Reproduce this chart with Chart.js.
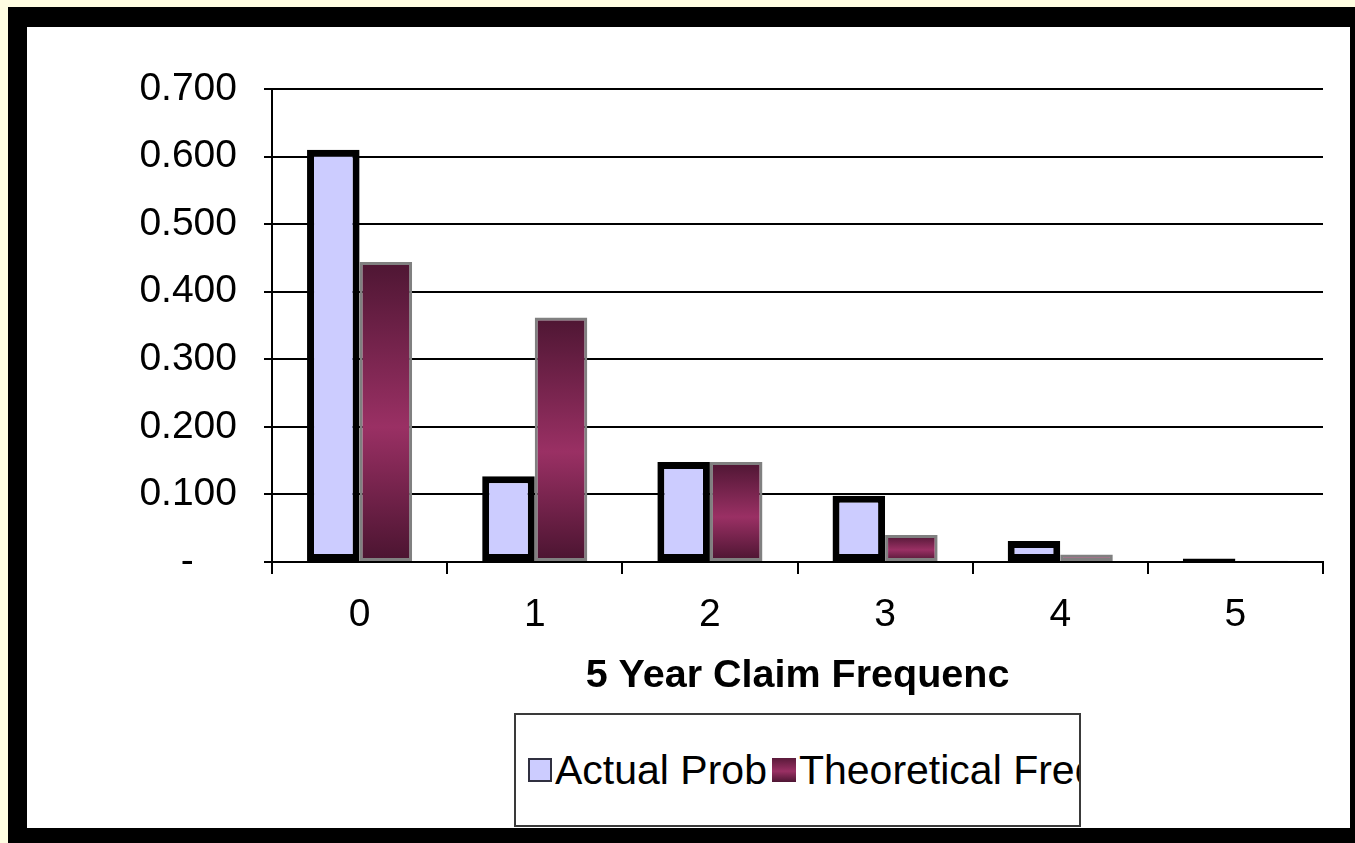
<!DOCTYPE html>
<html>
<head>
<meta charset="utf-8">
<script src="https://cdn.jsdelivr.net/npm/chart.js@4/dist/chart.umd.min.js"></script>
<style>
  html, body { margin: 0; padding: 0; }
  body { width: 1355px; height: 843px; background: #fffde1; position: relative; overflow: hidden; }
  #frame { position: absolute; left: 8px; top: 7px; right: 0; bottom: 0; background: #000; }
  #panel { position: absolute; left: 27px; top: 27px; width: 1323px; height: 801px; background: #fff; }
  #chart { position: absolute; left: 0; top: 0; }
  #legend {
    position: absolute; left: 514px; top: 713px; width: 567px; height: 114px;
    box-sizing: border-box; border: 2px solid #3a3a3a; background: #fff;
    display: flex; align-items: center; padding-left: 12px;
    overflow: hidden; white-space: nowrap;
    font: 41px "Liberation Sans", Arial, sans-serif; color: #000;
  }
  .swatch { width: 24px; height: 24px; box-sizing: border-box; flex: none; margin-right: 3px; }
  .actual { background: #ccccff; border: 2px solid #303040; }
  .theory { background: linear-gradient(#5a1a3a, #9a3064 55%, #4e1633); }
  .gap { margin-right: 5px; }
</style>
</head>
<body>
<div id="frame"></div>
<div id="panel"></div>
<canvas id="chart" width="1355" height="843"></canvas>
<div id="legend">
  <span class="swatch actual"></span><span class="gap">Actual Prob</span>
  <span class="swatch theory"></span><span>Theoretical Freq</span>
</div>
<script>
// claim counts over five years
const claimCounts = ['0', '1', '2', '3', '4', '5'];
// observed share of policies per claim count
const actualProb = [0.610, 0.127, 0.148, 0.098, 0.031, 0.005];
// fitted frequency per claim count
const theoreticalFreq = [0.444, 0.362, 0.148, 0.040, 0.011, 0.002];

const FONT = '"Liberation Sans", Arial, sans-serif';

// each theoretical bar gets its own dark-light-dark vertical shading
function theoryFill(ctx) {
  const chart = ctx.chart;
  if (!chart.chartArea || ctx.type !== 'data') return '#8a2a58';
  const y = chart.scales.y;
  const top = y.getPixelForValue(ctx.raw);
  const base = y.getPixelForValue(0);
  if (base - top < 2) return '#7a2450';
  const g = chart.ctx.createLinearGradient(0, top, 0, base);
  g.addColorStop(0, '#4e1633');
  g.addColorStop(0.55, '#9a3064');
  g.addColorStop(1, '#4a1430');
  return g;
}

new Chart(document.getElementById('chart'), {
  type: 'bar',
  data: {
    labels: claimCounts,
    datasets: [{
      label: 'Actual Prob',
      data: actualProb,
      backgroundColor: '#ccccff',
      borderColor: '#000',
      borderWidth: 7,
      borderSkipped: false
    }, {
      label: 'Theoretical Freq',
      data: theoreticalFreq,
      backgroundColor: theoryFill,
      borderColor: '#808080',
      borderWidth: 3,
      borderSkipped: false
    }]
  },
  options: {
    responsive: false,
    devicePixelRatio: 1,
    animation: false,
    categoryPercentage: 0.6,
    barPercentage: 1.0,
    layout: { padding: { left: 0, top: 89, right: 32, bottom: 0 } },
    plugins: {
      legend: { display: false },
      tooltip: { enabled: false }
    },
    scales: {
      x: {
        afterFit: s => { s.height = 281; },
        grid: {
          offset: true,
          drawOnChartArea: false,
          color: '#000',
          lineWidth: 2,
          tickLength: 12
        },
        border: { color: '#000', width: 2 },
        ticks: {
          color: '#000',
          padding: 18,
          font: { family: FONT, size: 39 }
        },
        title: {
          display: true,
          text: '5 Year Claim Frequenc',
          color: '#000',
          font: { family: FONT, size: 39.5, weight: 'bold' },
          padding: { top: 0, bottom: 143 }
        }
      },
      y: {
        min: 0,
        max: 0.7,
        afterFit: s => { s.width = 272; },
        grid: {
          color: '#000',
          lineWidth: 2,
          tickLength: 8
        },
        border: { color: '#000', width: 2 },
        ticks: {
          stepSize: 0.1,
          color: '#000',
          padding: 27,
          font: { family: FONT, size: 39 },
          callback: v => v === 0 ? '-    ' : v.toFixed(3)
        }
      }
    }
  }
});
</script>
</body>
</html>
